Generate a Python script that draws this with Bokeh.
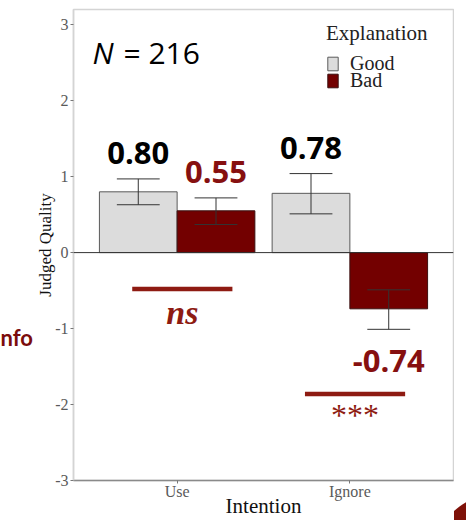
from bokeh.plotting import figure
from bokeh.layouts import row
from bokeh.models import (Range1d, FixedTicker, Legend, LegendItem, Label, Span,
                          ColumnDataSource, Div)
from bokeh.embed import file_html
from bokeh.resources import INLINE
from bokeh.core.properties import value

# ---------------- data ----------------
categories = ["Use", "Ignore"]
series = ["Good", "Bad"]
good_mean = [0.80, 0.78]
good_lower = [0.63, 0.51]
good_upper = [0.97, 1.04]
bad_mean = [0.55, -0.74]
bad_lower = [0.37, -1.01]
bad_upper = [0.72, -0.49]
n_total = 216
sig_labels = ["ns", "***"]
sig_y = [-0.48, -1.86]
y_ticks = [-3, -2, -1, 0, 1, 2, 3]

GOOD_FILL = "#dcdcdc"
BAD_FILL = "#730000"
RED_TXT = "#861010"
SIG_RED = "#8e1b12"

x_idx = [i + 1 for i in range(len(categories))]
dodge = 0.225
bar_w = 0.45
cap = 0.124


def make_src(means, lows, highs, sign):
    xs = [v + sign * dodge for v in x_idx]
    ys = [h if m >= 0 else l for m, l, h in zip(means, lows, highs)]
    offs = [-26 if m >= 0 else 32 for m in means]
    return ColumnDataSource(dict(
        x=xs, top=means, lo=lows, hi=highs,
        xl=[x - cap for x in xs], xr=[x + cap for x in xs],
        ly=ys, loff=offs, lab=[f"{m:.2f}" for m in means]))


good_src = make_src(good_mean, good_lower, good_upper, -1)
bad_src = make_src(bad_mean, bad_lower, bad_upper, +1)

# ---------------- slide fragment on the left (frame is aligned to the main chart's) ----------
q = figure(width=33, height=520, output_backend="svg", toolbar_location=None,
           x_range=Range1d(0, 33), y_range=Range1d(481, 9),
           x_axis_location=None, y_axis_location=None,
           min_border_left=0, min_border_right=0, min_border_top=0, min_border_bottom=0)
q.outline_line_color = None
q.xgrid.visible = False
q.ygrid.visible = False
q.background_fill_color = "white"
q.border_fill_color = "white"
q.add_layout(Label(x=0, y=338, text="nfo", text_font="Lato", text_font_style="bold",
                   text_font_size="22px", text_color="#7b0c0c", text_align="left",
                   text_baseline="alphabetic"))

# bottom-right slide decoration (part of a large red disc)
arc = Div(width=12, height=520,
          text='<div style="position:relative;width:12px;height:520px;overflow:hidden;">'
               '<div style="position:absolute;left:-37px;top:487px;width:206px;height:206px;'
               'border-radius:50%;background:#7e1108;"></div></div>',
          styles={"overflow": "hidden", "margin": "0px", "padding": "0px"})

# ---------------- main chart ----------------
p = figure(width=421, height=520, output_backend="svg", toolbar_location=None,
           x_range=Range1d(0.4, 2.6), y_range=Range1d(-3, 3.2),
           min_border_left=40, min_border_right=1, min_border_top=9,
           min_border_bottom=39)
p.background_fill_color = "white"
p.border_fill_color = "white"
p.outline_line_color = "#d4d4d4"
p.outline_line_width = 1.5
p.xgrid.visible = False
p.ygrid.visible = False

r_good = p.vbar(x="x", top="top", bottom=0, width=bar_w, source=good_src,
                fill_color=GOOD_FILL, line_color="#5a5a5a", line_width=1)
r_bad = p.vbar(x="x", top="top", bottom=0, width=bar_w, source=bad_src,
               fill_color=BAD_FILL, line_color="#3a1010", line_width=1)

for src in (good_src, bad_src):
    p.segment(x0="x", x1="x", y0="lo", y1="hi", source=src, line_color="#333333", line_width=1)
    p.segment(x0="xl", x1="xr", y0="lo", y1="lo", source=src, line_color="#333333", line_width=1)
    p.segment(x0="xl", x1="xr", y0="hi", y1="hi", source=src, line_color="#333333", line_width=1)

p.add_layout(Span(location=0, dimension="width", line_color="#333333", line_width=1))

p.text(x="x", y="ly", text="lab", y_offset="loff", source=good_src,
       text_align="center", text_baseline="middle", text_font=value("Open Sans"),
       text_font_style="bold", text_font_size="31px", text_color="black")
p.text(x="x", y="ly", text="lab", y_offset="loff", source=bad_src,
       text_align="center", text_baseline="middle", text_font=value("Open Sans"),
       text_font_style="bold", text_font_size="31px", text_color=RED_TXT)

# significance markers
sig_cx = [v + 0.03 for v in x_idx]
sig_src = ColumnDataSource(dict(x0=[c - 0.29 for c in sig_cx], x1=[c + 0.29 for c in sig_cx],
                                y=sig_y, cx=sig_cx, lab=sig_labels))
p.segment(x0="x0", x1="x1", y0="y", y1="y", source=sig_src, line_color=SIG_RED, line_width=4.5)
ns_src = ColumnDataSource(dict(x=[sig_cx[0]], y=[sig_y[0]], t=[sig_labels[0]]))
st_src = ColumnDataSource(dict(x=[sig_cx[1]], y=[sig_y[1]], t=[sig_labels[1]]))
p.text(x="x", y="y", text="t", source=ns_src, y_offset=23, text_align="center",
       text_baseline="alphabetic", text_font=value("Liberation Serif"),
       text_font_style="bold italic", text_font_size="34px", text_color=SIG_RED)
p.text(x="x", y="y", text="t", source=st_src, y_offset=21, text_align="center",
       text_baseline="alphabetic", text_font=value("Liberation Serif"),
       text_font_style="normal", text_font_size="32px", text_color=SIG_RED)

# N label
p.add_layout(Label(x=0.51, y=2.632, text="N", text_font="Open Sans", text_font_style="italic",
                   text_font_size="30px", text_color="black", text_baseline="alphabetic"))
p.add_layout(Label(x=0.51, y=2.632, x_offset=31, text=f" = {n_total}", text_font="Open Sans",
                   text_font_size="30px", text_color="black", text_baseline="alphabetic"))

# axes
p.xaxis.ticker = FixedTicker(ticks=x_idx)
p.xaxis.major_label_overrides = {i: c for i, c in zip(x_idx, categories)}
p.yaxis.ticker = FixedTicker(ticks=y_ticks)
p.yaxis.major_label_overrides = {t: str(t) for t in y_ticks}
p.xaxis.axis_label = "Intention"
p.yaxis.axis_label = "Judged Quality"
for ax in (p.xaxis[0], p.yaxis[0]):
    ax.major_label_text_font = "Liberation Serif"
    ax.major_label_text_font_size = "16px"
    ax.major_label_text_color = "#5a5a5a"
    ax.axis_label_text_font = "Liberation Serif"
    ax.axis_label_text_font_style = "normal"
    ax.axis_label_text_color = "#111111"
    ax.major_tick_in = 0
    ax.major_tick_out = 3
    ax.minor_tick_line_color = None
    ax.major_tick_line_color = "#777777"
p.xaxis.axis_label_text_font_size = "21px"
p.yaxis.axis_label_text_font_size = "17px"
p.xaxis.axis_line_color = "#8a8a8a"
p.xaxis.axis_line_width = 1.5
p.yaxis.axis_line_color = "#d4d4d4"
p.yaxis.axis_line_width = 1.5
p.xaxis.major_label_standoff = -1
p.xaxis.axis_label_standoff = -9
p.yaxis.major_label_standoff = 2
p.yaxis.axis_label_standoff = -3

common = dict(label_text_font="Liberation Serif", label_text_font_size="20px",
              label_text_color="#222222", glyph_width=13, glyph_height=17,
              label_height=17, spacing=0, padding=0, margin=0, label_standoff=11,
              border_line_color=None, background_fill_alpha=0)
legend_top = Legend(items=[LegendItem(label=series[0], renderers=[r_good])],
                    title="Explanation", location=(253, 405),
                    title_text_font="Liberation Serif", title_text_font_size="21px",
                    title_text_font_style="normal", title_text_color="#222222",
                    title_standoff=6, **common)
legend_bot = Legend(items=[LegendItem(label=series[1], renderers=[r_bad])],
                    location=(253, 388), **common)
p.add_layout(legend_top)
p.add_layout(legend_bot)

layout = row(q, p, arc, spacing=0)
open("out.html", "w").write(file_html(layout, INLINE))
